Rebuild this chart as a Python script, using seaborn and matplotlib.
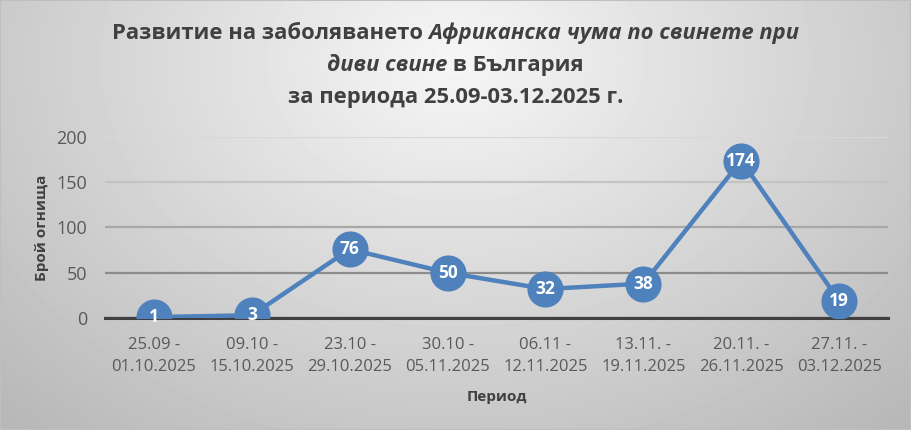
import numpy as np
import pandas as pd
import matplotlib
matplotlib.use("Agg")
import matplotlib.pyplot as plt
import seaborn as sns

periods = ["25.09 -\n01.10.2025", "09.10 -\n15.10.2025", "23.10 -\n29.10.2025",
           "30.10 -\n05.11.2025", "06.11 -\n12.11.2025", "13.11. -\n19.11.2025",
           "20.11. -\n26.11.2025", "27.11. -\n03.12.2025"]
outbreaks = [1, 3, 76, 50, 32, 38, 174, 19]
y_ticks = [0, 50, 100, 150, 200]

title_lines = [
    [("Развитие на заболяването ", "normal"), ("Африканска чума по свинете при", "italic")],
    [("диви свине", "italic"), (" в България", "normal")],
    [("за периода 25.09-03.12.2025 г.", "normal")],
]

sns.set_theme(style="white")
FONT = ["Open Sans", "DejaVu Sans"]
plt.rcParams["font.family"] = FONT

df = pd.DataFrame({"period": periods, "count": outbreaks})
df["pos"] = range(len(df))

fig = plt.figure(figsize=(9.11, 4.30), dpi=100)

# background gradient
bg = fig.add_axes([0, 0, 1, 1], zorder=-10)
yy, xx = np.mgrid[0:430, 0:911]
d = np.sqrt(((xx - 455) / 560.0) ** 2 + ((yy - 60) / 420.0) ** 2)
shade = np.clip(0.965 - 0.21 * d, 0.72, 1.0)
bg.imshow(shade, cmap="gray", vmin=0, vmax=1, aspect="auto", extent=[0, 1, 0, 1])
bg.set_axis_off()

ax = fig.add_axes([0.1153, 0.2605, 0.8595, 0.4209])
ax.patch.set_alpha(0)

blue = "#4f81bd"
sns.lineplot(data=df, x="pos", y="count", ax=ax, color=blue, linewidth=3.2,
             marker="o", markersize=26, zorder=5)
for ln in ax.lines:
    ln.set_markeredgecolor(blue)
    ln.set_markeredgewidth(0)
    ln.set_markerfacecolor(blue)

for x, v in zip(df["pos"], df["count"]):
    ax.text(x, v, str(v), ha="center", va="center", color="white",
            fontsize=12.5, fontweight="bold", zorder=6)

ax.set_xlim(-0.5, len(periods) - 0.5)
ax.set_ylim(0, 200)
ax.set_yticks(y_ticks)
ax.set_xticks(df["pos"])
ax.set_xticklabels(periods)
ax.set_xticks(np.arange(-0.5, len(periods)), minor=True)
ax.tick_params(axis="x", which="major", length=0, pad=14, labelsize=12, labelcolor="#595959")
ax.tick_params(axis="x", which="minor", length=6, width=2, color="#404040", direction="out")
ax.tick_params(axis="y", length=0, pad=13, labelsize=13, labelcolor="#595959")
for lab in ax.get_xticklabels():
    lab.set_linespacing(1.45)

ax.grid(axis="y", linewidth=1.6)
grid_cols = ["#3f3f3f", "#8c8c8c", "#a8a8a8", "#c4c4c4", "#d8d8d8"]
for gl, c in zip(ax.get_ygridlines(), grid_cols):
    gl.set_color(c)
ax.set_axisbelow(True)

for s in ["top", "right", "left"]:
    ax.spines[s].set_visible(False)
ax.spines["bottom"].set_color("#404040")
ax.spines["bottom"].set_linewidth(2.2)

ax.set_xlabel("Период", fontsize=11, fontweight="bold", color="#404040", labelpad=11)
ax.set_ylabel("Брой огнища", fontsize=11, fontweight="bold", color="#404040", labelpad=5)

# title with mixed italic pieces, centered per line
fig.canvas.draw()
renderer = fig.canvas.get_renderer()
line_y = [0.922, 0.848, 0.773]
for segs, y in zip(title_lines, line_y):
    parts = []
    for txt, st in segs:
        t = fig.text(0, y, txt, fontsize=15.8, fontweight="bold", style=st,
                     color="#404040", va="center", ha="left")
        parts.append(t)
    widths = [p.get_window_extent(renderer).width / fig.bbox.width for p in parts]
    x0 = 0.5 - sum(widths) / 2
    for p, w in zip(parts, widths):
        p.set_x(x0)
        x0 += w

fig.patches.append(plt.Rectangle((0, 0), 1, 1, transform=fig.transFigure,
                                 fill=False, edgecolor="#bfbfbf", linewidth=1.5))

fig.savefig("out.png", dpi=100)
